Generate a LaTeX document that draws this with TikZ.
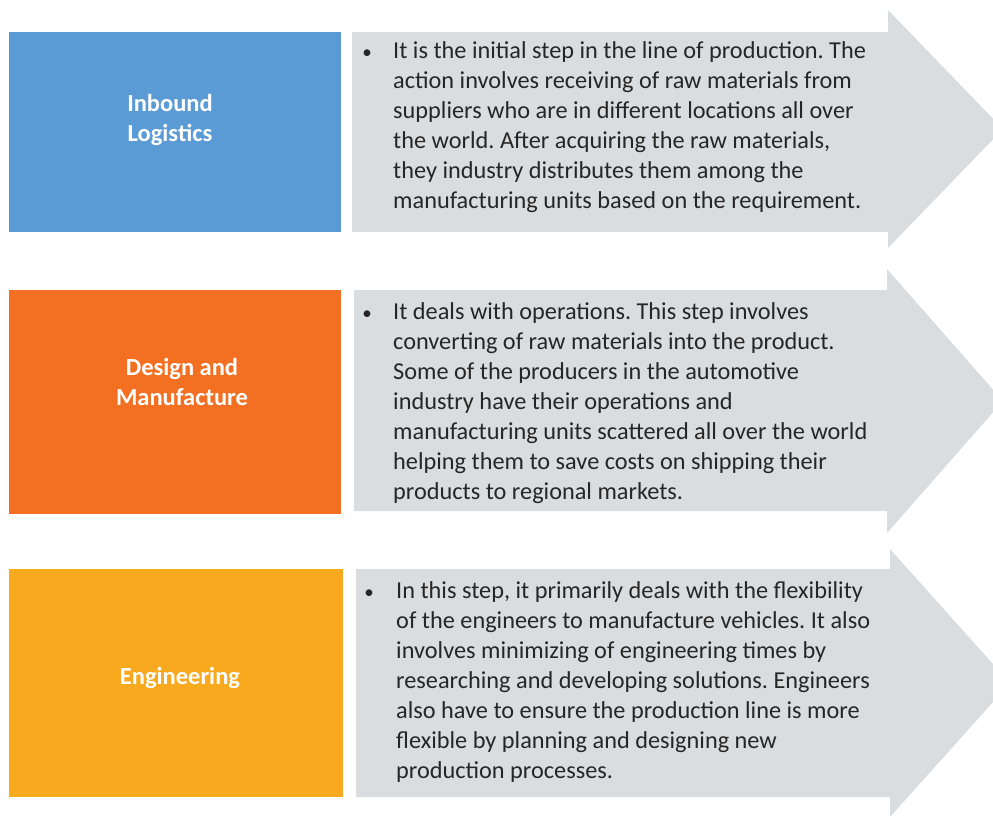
\documentclass[tikz,border=0pt]{standalone}
\usepackage{fontspec}
\setmainfont{Carlito}
\usetikzlibrary{positioning}

\definecolor{inblue}{HTML}{5B9BD5}
\definecolor{mforange}{HTML}{F37022}
\definecolor{engyellow}{HTML}{F8A91E}
\definecolor{arrowgray}{HTML}{DADDE0}

\begin{document}
\frenchspacing
\begin{tikzpicture}[x=1pt, y=-1pt,
  title/.style={text=white, font=\fontsize{24.5}{30}\selectfont\bfseries, align=center, inner sep=0},
  body/.style={text=black!85, font=\fontsize{24.3}{30}\selectfont, align=left, inner sep=0, anchor=north west},
  bul/.style={text=black!85, font=\fontsize{19}{30}\selectfont, inner sep=0, anchor=base}]

  \useasboundingbox (0,0) rectangle (993,819);
  \clip (0,0) rectangle (993,819);

  % gray arrows
  \fill[arrowgray] (352,32) -- (888,32) -- (888,10) -- (1003,129) -- (888,248) -- (888,232) -- (352,232) -- cycle;
  \fill[arrowgray] (354,290) -- (887,290) -- (887,269) -- (1003,401) -- (887,533) -- (887,511) -- (354,511) -- cycle;
  \fill[arrowgray] (356,569) -- (890,569) -- (890,549) -- (1010,683) -- (890,817) -- (890,797) -- (356,797) -- cycle;

  % coloured boxes
  \fill[inblue] (9,32) rectangle (341,232);
  \fill[mforange] (9,290) rectangle (341,514);
  \fill[engyellow] (9,569) rectangle (343,797);

  \node[title] (inbound) at (170,120) {Inbound\\Logistics};
  \node[title] (design) at (182,382) {Design and\\Manufacture};
  \node[title] (eng) at (180,678) {Engineering};

  % bullet texts
  \node[bul] (bulA) at (367,58) {\textbullet};
  \node[body] (textA) at (393,41) {It is the initial step in the line of production. The\\
    action involves receiving of raw materials from\\
    suppliers who are in different locations all over\\
    the world. After acquiring the raw materials,\\
    they industry distributes them among the\\
    manufacturing units based on the requirement.};

  \node[bul] (bulB) at (367,319) {\textbullet};
  \node[body] (textB) at (393,302) {It deals with operations. This step involves\\
    converting of raw materials into the product.\\
    Some of the producers in the automotive\\
    industry have their operations and\\
    manufacturing units scattered all over the world\\
    helping them to save costs on shipping their\\
    products to regional markets.};

  \node[bul] (bulC) at (369,598) {\textbullet};
  \node[body] (textC) at (396,581) {In this step, it primarily deals with the flexibility\\
    of the engineers to manufacture vehicles. It also\\
    involves minimizing of engineering times by\\
    researching and developing solutions. Engineers\\
    also have to ensure the production line is more\\
    flexible by planning and designing new\\
    production processes.};
\end{tikzpicture}
\end{document}
